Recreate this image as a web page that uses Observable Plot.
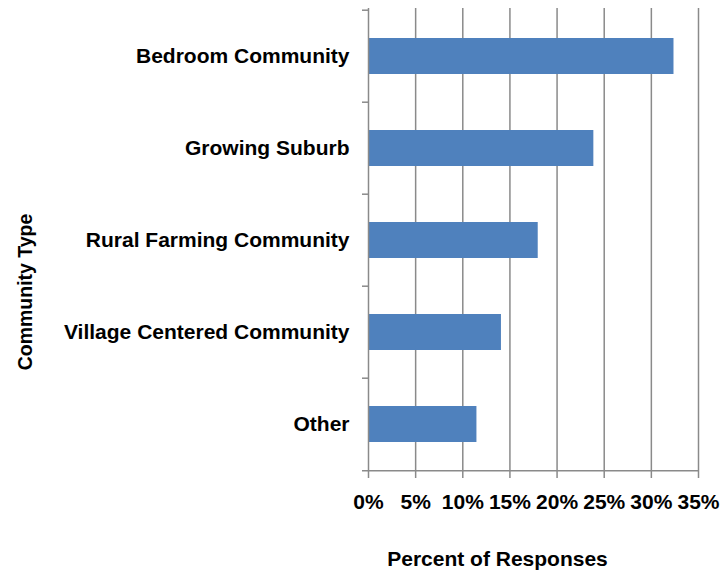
<!DOCTYPE html>
<html><head><meta charset="utf-8">
<script src="https://cdn.jsdelivr.net/npm/d3@7"></script>
<script src="https://cdn.jsdelivr.net/npm/@observablehq/plot@0.6"></script>
<style>body{margin:0;background:#fff}</style>
</head><body><div id="chart"></div>
<script>
const categories = ["Bedroom Community", "Growing Suburb", "Rural Farming Community", "Village Centered Community", "Other"];
const values = [32.4, 23.9, 18.0, 14.1, 11.5];
const xTicks = [0, 5, 10, 15, 20, 25, 30, 35];
const xTickLabels = ["0%", "5%", "10%", "15%", "20%", "25%", "30%", "35%"];
const xTitle = "Percent of Responses";
const yTitle = "Community Type";

const data = categories.map((c, i) => ({category: c, value: values[i]}));
const W = 720, H = 571, mL = 368, mR = 22, mT = 8, mB = 100;
const step = (H - mT - mB) / categories.length;
const gray = "#8a8a8a";
const font = "'Liberation Sans', Arial, sans-serif";

const chart = Plot.plot({
  width: W, height: H,
  marginLeft: mL, marginRight: mR, marginTop: mT, marginBottom: mB,
  style: {fontFamily: font, background: "white", color: "black"},
  x: {domain: [0, 35]},
  y: {domain: categories, padding: 0},
  marks: [
    Plot.gridX(xTicks.slice(1), {stroke: gray, strokeOpacity: 1, strokeWidth: 1.5}),
    Plot.barX(data, {x: "value", y: "category", fill: "#4F81BD", insetTop: 28, insetBottom: 28}),
    Plot.ruleX([0], {stroke: gray, strokeWidth: 1.5}),
    Plot.ruleY(categories, {y: d => d, dy: -step / 2, x1: 0, x2: 0, insetLeft: -6, stroke: gray, strokeWidth: 1.5}),
    Plot.ruleY([categories[categories.length - 1]], {y: d => d, dy: step / 2, x1: 0, x2: 35, insetLeft: -6, stroke: gray, strokeWidth: 1.5}),
    Plot.axisX({ticks: xTicks, tickFormat: (d, i) => xTickLabels[i], tickSize: 7, tickPadding: 16,
      stroke: gray, strokeWidth: 1.5, fill: "black", fontSize: 21, fontWeight: "bold", label: null}),
    Plot.axisY({tickSize: 0, tickPadding: 19, fontSize: 21, fontWeight: "bold", fill: "black", label: null}),
    Plot.text([xTitle], {text: d => d, frameAnchor: "bottom", dx: -36, dy: 80, lineAnchor: "top", textAnchor: "middle",
      fontSize: 21, fontWeight: "bold", fill: "black"}),
    Plot.text([yTitle], {text: d => d, frameAnchor: "left", dx: -350, dy: 52, rotate: -90, lineAnchor: "top", textAnchor: "middle",
      fontSize: 19.5, fontWeight: "bold", fill: "black"})
  ]
});
document.getElementById("chart").appendChild(chart);
</script>
</body></html>
